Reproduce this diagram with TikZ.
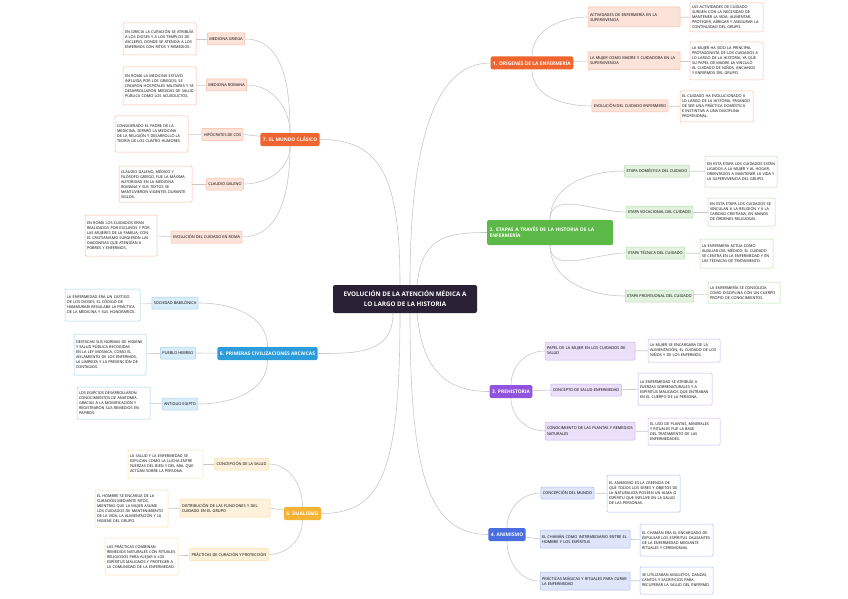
\documentclass[tikz,border=0pt]{standalone}
\usepackage{fontspec}
\setmainfont{Open Sans}
\usetikzlibrary{backgrounds}
\definecolor{rootcol}{HTML}{2A2136}
\definecolor{orcol}{HTML}{F0652F}
\definecolor{grcol}{HTML}{5DB947}
\definecolor{pucol}{HTML}{9153DE}
\definecolor{blcol}{HTML}{4A6EE0}
\definecolor{yecol}{HTML}{F5B335}
\definecolor{skcol}{HTML}{2D9CDB}
\definecolor{linkgray}{HTML}{C8C8C8}
\newcommand{\nohyph}{\hyphenpenalty=10000\exhyphenpenalty=10000}
\newcommand{\notefont}{\nohyph\fontsize{3.8}{5}\selectfont}
\newcommand{\topicfont}{\nohyph\fontsize{3.9}{5.2}\selectfont}
\newcommand{\branchfont}{\bfseries\fontsize{4.9}{6.4}\selectfont}
\newcommand{\rootfont}{\bfseries\fontsize{6.3}{10}\selectfont}

\begin{document}
\begin{tikzpicture}[x=1pt,y=1pt,
  root/.style={fill=rootcol, text=white, rounded corners=2pt, font=\rootfont, align=center, minimum width=144pt, minimum height=28pt},
  branch/.style={fill=#1, text=white, rounded corners=1.5pt, font=\branchfont, inner sep=2.5pt, minimum height=13pt, align=left},
  topic/.style={draw=#1!45, fill=#1!18, rounded corners=1pt, line width=0.5pt, font=\topicfont, inner sep=2pt, minimum height=12pt, align=left},
  note/.style={draw=#1!45, fill=white, rounded corners=1pt, line width=0.5pt, font=\notefont, inner sep=2pt, align=left},
  link/.style={draw=linkgray, line width=0.6pt}
]
\useasboundingbox (0,0) rectangle (848,-599);

% centro
\node[root] (root) at (405,-299) {EVOLUCIÓN DE LA ATENCIÓN MÉDICA A\\LO LARGO DE LA HISTORIA};

% 1. origenes
\node[branch=orcol] (b1) at (532,-63) {1. ORÍGENES DE LA ENFERMERÍA};
\node[topic=orcol, text width=88pt, minimum height=20pt] (t11) at (634,-17) {ACTIVIDADES DE ENFERMERÍA EN LA\\SUPERVIVENCIA};
\node[note=orcol, text width=69pt, minimum height=29pt] (n11) at (726.5,-17.5) {LAS ACTIVIDADES DE CUIDADO SURGEN CON LA NECESIDAD DE MANTENER LA VIDA: ALIMENTAR, PROTEGER, ABRIGAR Y ASEGURAR LA CONTINUIDAD DEL GRUPO.};
\node[topic=orcol, text width=88pt, minimum height=18pt] (t12) at (634,-61) {LA MUJER COMO MADRE Y CUIDADORA EN LA\\SUPERVIVENCIA};
\node[note=orcol, text width=69pt, minimum height=38pt] (n12) at (726.5,-61) {LA MUJER HA SIDO LA PRINCIPAL PROTAGONISTA DE LOS CUIDADOS A LO LARGO DE LA HISTORIA, YA QUE SU PAPEL DE MADRE LA VINCULÓ AL CUIDADO DE NIÑOS, ANCIANOS Y ENFERMOS DEL GRUPO.};
\node[topic=orcol] (t13) at (630,-106) {EVOLUCIÓN DEL CUIDADO ENFERMERO};
\node[note=orcol, text width=69pt, minimum height=31pt] (n13) at (716.5,-106.5) {EL CUIDADO HA EVOLUCIONADO A LO LARGO DE LA HISTORIA, PASANDO DE SER UNA PRÁCTICA DOMÉSTICA E INSTINTIVA A UNA DISCIPLINA PROFESIONAL.};

% 2. etapas
\node[branch=grcol, text width=121pt, minimum height=25pt] (b2) at (550,-232.5) {2. ETAPAS A TRAVÉS DE LA HISTORIA DE LA\\ENFERMERÍA};
\node[topic=grcol] (t21) at (657,-171) {ETAPA DOMÉSTICA DEL CUIDADO};
\node[note=grcol, text width=68pt, minimum height=31pt] (n21) at (741,-171.5) {EN ESTA ETAPA LOS CUIDADOS ESTÁN LIGADOS A LA MUJER Y AL HOGAR, ORIENTADOS A MANTENER LA VIDA Y LA SUPERVIVENCIA DEL GRUPO.};
\node[topic=grcol] (t22) at (659.5,-212) {ETAPA VOCACIONAL DEL CUIDADO};
\node[note=grcol, text width=63pt, minimum height=28pt] (n22) at (741.5,-212) {EN ESTA ETAPA LOS CUIDADOS SE VINCULAN A LA RELIGIÓN Y A LA CARIDAD CRISTIANA, EN MANOS DE ÓRDENES RELIGIOSAS.};
\node[topic=grcol] (t23) at (655.5,-253) {ETAPA TÉCNICA DEL CUIDADO};
\node[note=grcol, text width=69pt, minimum height=29pt] (n23) at (736.5,-253.5) {LA ENFERMERA ACTÚA COMO AUXILIAR DEL MÉDICO; EL CUIDADO SE CENTRA EN LA ENFERMEDAD Y EN LAS TÉCNICAS DE TRATAMIENTO.};
\node[topic=grcol] (t24) at (659.5,-296) {ETAPA PROFESIONAL DEL CUIDADO};
\node[note=grcol, text width=68pt, minimum height=21pt] (n24) at (744,-292.5) {LA ENFERMERÍA SE CONSOLIDA COMO DISCIPLINA CON UN CUERPO PROPIO DE CONOCIMIENTOS.};

% 3. prehistoria
\node[branch=pucol] (b3) at (511,-391.5) {3. PREHISTORIA};
\node[topic=pucol, text width=86pt, minimum height=18pt] (t31) at (590,-351) {PAPEL DE LA MUJER EN LOS CUIDADOS DE SALUD};
\node[note=pucol, text width=68pt, minimum height=23pt] (n31) at (684,-350.5) {LA MUJER SE ENCARGABA DE LA ALIMENTACIÓN, EL CUIDADO DE LOS NIÑOS Y DE LOS ENFERMOS.};
\node[topic=pucol] (t32) at (586,-390) {CONCEPTO DE SALUD-ENFERMEDAD};
\node[note=pucol, text width=70pt, minimum height=32pt] (n32) at (675,-389) {LA ENFERMEDAD SE ATRIBUÍA A FUERZAS SOBRENATURALES Y A ESPÍRITUS MALIGNOS QUE ENTRABAN EN EL CUERPO DE LA PERSONA.};
\node[topic=pucol, text width=86pt, minimum height=18pt] (t33) at (590,-431) {CONOCIMIENTO DE LAS PLANTAS Y REMEDIOS\\NATURALES};
\node[note=pucol, text width=68pt, minimum height=27pt] (n33) at (684,-431.5) {EL USO DE PLANTAS, MINERALES Y RITUALES FUE LA BASE DEL TRATAMIENTO DE LAS ENFERMEDADES.};

% 4. animismo
\node[branch=blcol] (b4) at (507,-534.5) {4. ANIMISMO};
\node[topic=blcol] (t41) at (567.5,-493) {CONCEPCIÓN DEL MUNDO};
\node[note=blcol, text width=69pt, minimum height=37pt] (n41) at (643.5,-493.5) {EL ANIMISMO ES LA CREENCIA DE QUE TODOS LOS SERES Y OBJETOS DE LA NATURALEZA POSEEN UN ALMA O ESPÍRITU QUE INFLUYE EN LA SALUD DE LAS PERSONAS.};
\node[topic=blcol, text width=86pt, minimum height=18pt] (t42) at (585,-539) {EL CHAMÁN COMO INTERMEDIARIO ENTRE EL\\HOMBRE Y LOS ESPÍRITUS};
\node[note=blcol, text width=69pt, minimum height=32pt] (n42) at (676.5,-540) {EL CHAMÁN ERA EL ENCARGADO DE EXPULSAR LOS ESPÍRITUS CAUSANTES DE LA ENFERMEDAD MEDIANTE RITUALES Y CEREMONIAS.};
\node[topic=blcol, text width=86pt, minimum height=18pt] (t43) at (585,-581) {PRÁCTICAS MÁGICAS Y RITUALES PARA CURAR\\LA ENFERMEDAD};
\node[note=blcol, text width=69pt, minimum height=27pt] (n43) at (676.5,-580.5) {SE UTILIZABAN AMULETOS, DANZAS, CANTOS Y SACRIFICIOS PARA RECUPERAR LA SALUD DEL ENFERMO.};

% 5. dualismo
\node[branch=yecol] (b5) at (302.5,-513.5) {5. DUALISMO};
\node[topic=yecol] (t51) at (241.5,-464) {CONCEPCIÓN DE LA SALUD};
\node[note=yecol, text width=71pt, minimum height=28pt] (n51) at (165.5,-464) {LA SALUD Y LA ENFERMEDAD SE EXPLICAN COMO LA LUCHA ENTRE FUERZAS DEL BIEN Y DEL MAL QUE ACTÚAN SOBRE LA PERSONA.};
\node[topic=yecol, text width=86pt, minimum height=18pt] (t52) at (225,-508) {DISTRIBUCIÓN DE LAS FUNCIONES Y DEL CUIDADO EN EL GRUPO};
\node[note=yecol, text width=69pt, minimum height=37pt] (n52) at (131.5,-508.5) {EL HOMBRE SE ENCARGA DE LA CURACIÓN MEDIANTE RITOS, MIENTRAS QUE LA MUJER ASUME LOS CUIDADOS DE MANTENIMIENTO DE LA VIDA, LA ALIMENTACIÓN Y LA HIGIENE DEL GRUPO.};
\node[topic=yecol] (t53) at (229,-554.5) {PRÁCTICAS DE CURACIÓN Y PROTECCIÓN};
\node[note=yecol, text width=69pt, minimum height=37pt] (n53) at (141.5,-556.5) {LAS PRÁCTICAS COMBINAN REMEDIOS NATURALES CON RITUALES RELIGIOSOS PARA ALEJAR A LOS ESPÍRITUS MALIGNOS Y PROTEGER A LA COMUNIDAD DE LA ENFERMEDAD.};

% 6. civilizaciones arcaicas
\node[branch=skcol] (b6) at (267.5,-353.5) {6. PRIMERAS CIVILIZACIONES ARCAICAS};
\node[topic=skcol] (t61) at (175,-303) {SOCIEDAD BABILÓNICA};
\node[note=skcol, text width=71pt, minimum height=32pt] (n61) at (102.5,-305) {LA ENFERMEDAD ERA UN CASTIGO DE LOS DIOSES; EL CÓDIGO DE HAMMURABI REGULABA LA PRÁCTICA DE LA MEDICINA Y SUS HONORARIOS.};
\node[topic=skcol] (t62) at (178,-353) {PUEBLO HEBREO};
\node[note=skcol, text width=68pt, minimum height=41pt] (n62) at (110,-354.5) {DESTACAN SUS NORMAS DE HIGIENE Y SALUD PÚBLICA RECOGIDAS EN LA LEY MOSAICA, COMO EL AISLAMIENTO DE LOS ENFERMOS, LA LIMPIEZA Y LA PREVENCIÓN DE CONTAGIOS.};
\node[topic=skcol] (t63) at (180,-404) {ANTIGUO EGIPTO};
\node[note=skcol, text width=69pt, minimum height=32pt] (n63) at (113.5,-403) {LOS EGIPCIOS DESARROLLARON CONOCIMIENTOS DE ANATOMÍA GRACIAS A LA MOMIFICACIÓN Y REGISTRARON SUS REMEDIOS EN PAPIROS.};

% 7. mundo clasico
\node[branch=orcol] (b7) at (290,-139.5) {7. EL MUNDO CLÁSICO};
\node[topic=orcol] (t71) at (226,-39) {MEDICINA GRIEGA};
\node[note=orcol, text width=69pt, minimum height=32pt] (n71) at (159.5,-39) {EN GRECIA LA CURACIÓN SE ATRIBUÍA A LOS DIOSES Y A LOS TEMPLOS DE ASCLEPIO, DONDE SE ATENDÍA A LOS ENFERMOS CON RITOS Y REMEDIOS.};
\node[topic=orcol] (t72) at (226.5,-85) {MEDICINA ROMANA};
\node[note=orcol, text width=69pt, minimum height=38pt] (n72) at (159.5,-86) {EN ROMA LA MEDICINA ESTUVO INFLUIDA POR LOS GRIEGOS; SE CREARON HOSPITALES MILITARES Y SE DESARROLLARON MEDIDAS DE SALUD PÚBLICA COMO LOS ACUEDUCTOS.};
\node[topic=orcol] (t73) at (222.5,-134.5) {HIPÓCRATES DE COS};
\node[note=orcol, text width=69pt, minimum height=36pt] (n73) at (151.5,-134) {CONSIDERADO EL PADRE DE LA MEDICINA, SEPARÓ LA MEDICINA DE LA RELIGIÓN Y DESARROLLÓ LA TEORÍA DE LOS CUATRO HUMORES.};
\node[topic=orcol] (t74) at (225,-184) {CLAUDIO GALENO};
\node[note=orcol, text width=69pt, minimum height=36pt] (n74) at (155.5,-184) {CLAUDIO GALENO, MÉDICO Y FILÓSOFO GRIEGO, FUE LA MÁXIMA AUTORIDAD EN LA MEDICINA ROMANA Y SUS TEXTOS SE MANTUVIERON VIGENTES DURANTE SIGLOS.};
\node[topic=orcol] (t75) at (206.5,-237) {EVOLUCIÓN DEL CUIDADO EN ROMA};
\node[note=orcol, text width=68pt, minimum height=41pt] (n75) at (121,-235.5) {EN ROMA LOS CUIDADOS ERAN REALIZADOS POR ESCLAVOS Y POR LAS MUJERES DE LA FAMILIA; CON EL CRISTIANISMO SURGIERON LAS DIACONISAS QUE ATENDÍAN A POBRES Y ENFERMOS.};

\begin{pgfonlayer}{background}
\fill[white] (0,0) rectangle (848,-599);
% ramas principales
\draw[link] ([xshift=5]root.north) .. controls +(0,130) and +(-60,0) .. (b1.west);
\draw[link] ([xshift=12]root.north) .. controls +(5,45) and +(-45,0) .. (b2.west);
\draw[link] ([xshift=12]root.south) .. controls +(5,-55) and +(-45,0) .. (b3.west);
\draw[link] ([xshift=5]root.south) .. controls +(0,-160) and +(-60,0) .. (b4.west);
\draw[link] ([xshift=-5]root.north) .. controls +(0,110) and +(60,0) .. (b7.east);
\draw[link] ([xshift=-12]root.south) .. controls +(0,-40) and +(40,0) .. (b6.east);
\draw[link] ([xshift=-5]root.south) .. controls +(0,-160) and +(60,0) .. (b5.east);
% temas
\draw[link] (b1) to[out=90,in=180] (t11.west);
\draw[link] (b1) -- (t12.west);
\draw[link] (b1) to[out=-90,in=180] (t13.west);
\draw[link] (b2) to[out=90,in=180] (t21.west);
\draw[link] (b2) to[out=90,in=180] (t22.west);
\draw[link] (b2) to[out=-90,in=180] (t23.west);
\draw[link] (b2) to[out=-90,in=180] (t24.west);
\draw[link] (b3) to[out=90,in=180] (t31.west);
\draw[link] (b3) -- (t32.west);
\draw[link] (b3) to[out=-90,in=180] (t33.west);
\draw[link] (b4) to[out=90,in=180] (t41.west);
\draw[link] (b4) -- (t42.west);
\draw[link] (b4) to[out=-90,in=180] (t43.west);
\draw[link] (b5) to[out=90,in=0] (t51.east);
\draw[link] (b5) -- (t52.east);
\draw[link] (b5) to[out=-90,in=0] (t53.east);
\draw[link] (b6) to[out=90,in=0] (t61.east);
\draw[link] (b6) -- (t62.east);
\draw[link] (b6) to[out=-90,in=0] (t63.east);
\draw[link] (b7) to[out=90,in=0] (t71.east);
\draw[link] (b7) to[out=90,in=0] (t72.east);
\draw[link] (b7) -- (t73.east);
\draw[link] (b7) to[out=-90,in=0] (t74.east);
\draw[link] (b7) to[out=-90,in=0] (t75.east);
% notas
\foreach \t/\n in {t11/n11,t12/n12,t13/n13,t21/n21,t22/n22,t23/n23,t24/n24,t31/n31,t32/n32,t33/n33,t41/n41,t42/n42,t43/n43,t51/n51,t52/n52,t53/n53,t61/n61,t62/n62,t63/n63,t71/n71,t72/n72,t73/n73,t74/n74,t75/n75}
  \draw[link] (\t) -- (\n);
\end{pgfonlayer}
\end{tikzpicture}
\end{document}
